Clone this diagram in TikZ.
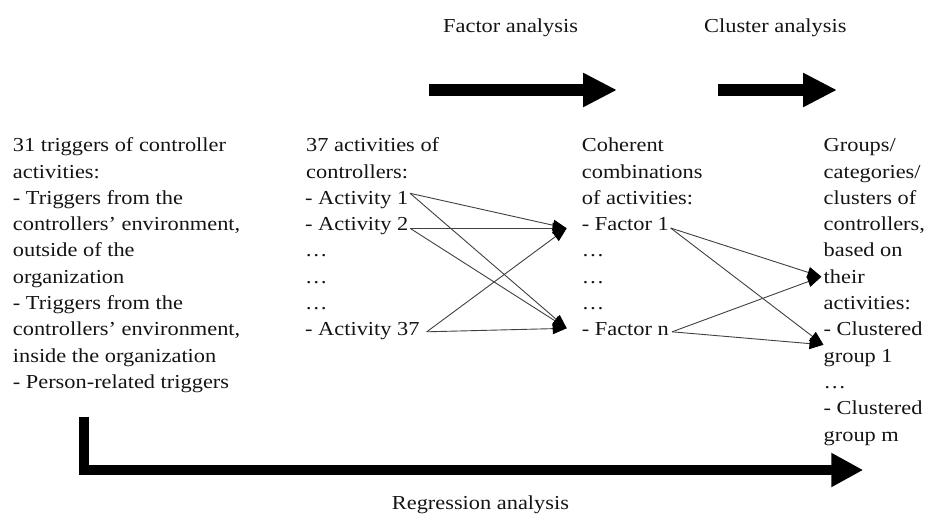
\documentclass[tikz,border=0pt]{standalone}
\usepackage{fontspec}
\setmainfont{Liberation Serif}[FakeStretch=1.13]
\usetikzlibrary{arrows.meta}
\begin{document}
\begin{tikzpicture}[x=1pt,y=-1pt,
  lbl/.style={inner sep=0pt, anchor=base west,
    font=\fontsize{19.8}{26.3}\selectfont, text=black!92},
  conn/.style={draw=black!75, line width=0.9pt,
    -{Triangle[length=14pt,width=11pt,color=black]}},
  bigarrow/.style={line width=12.5pt, line cap=butt,
    -{Triangle[length=34pt,width=32pt]}},
  regarrow/.style={line width=10pt, line join=miter, line cap=butt,
    -{Triangle[length=32pt,width=32pt]}}]
\useasboundingbox (0,0) rectangle (929,514);

% analysis labels
\node[lbl] (factorlbl)  at (443,32.3) {Factor analysis};
\node[lbl] (clusterlbl) at (704,32.3) {Cluster analysis};
\node[lbl] (reglbl)     at (391.7,509) {Regression analysis};

% column 1: triggers
\foreach \t [count=\i] in {31 triggers of controller, activities:,
    - Triggers from the, {controllers’ environment,}, outside of the,
    organization, - Triggers from the, {controllers’ environment,},
    inside the organization, - Person-related triggers}
  \node[lbl] (trig\i) at (12.7,{151.7+26.3*(\i-1)}) {\t};

% column 2: activities
\node[lbl] (acthead1) at (306,151.7) {37 activities of};
\node[lbl] (acthead2) at (306,178.0) {controllers:};
\node[lbl] (act1)  at (305,204.3) {- Activity 1};
\node[lbl] (act2)  at (305,230.6) {- Activity 2};
\node[lbl] (actd1) at (305,256.9) {…};
\node[lbl] (actd2) at (305,283.2) {…};
\node[lbl] (actd3) at (305,309.5) {…};
\node[lbl] (act37) at (305,335.8) {- Activity 37};

% column 3: factors
\node[lbl] (fachead1) at (581.7,151.7) {Coherent};
\node[lbl] (fachead2) at (581.7,178.0) {combinations};
\node[lbl] (fachead3) at (581.7,204.3) {of activities:};
\node[lbl] (fac1)  at (581.7,230.6) {- Factor 1};
\node[lbl] (facd1) at (581.7,256.9) {…};
\node[lbl] (facd2) at (581.7,283.2) {…};
\node[lbl] (facd3) at (581.7,309.5) {…};
\node[lbl] (facn)  at (581.7,335.8) {- Factor n};

% column 4: clusters
\foreach \t [count=\i] in {Groups/, categories/, clusters of,
    {controllers,}, based on, their, activities:, - Clustered,
    group 1, …, - Clustered, group m}
  \node[lbl] (grp\i) at (823.5,{151.7+26.3*(\i-1)}) {\t};

% activities -> factors
\draw[conn] ([xshift=1.5pt,yshift=11pt]act1.base east) -- ([xshift=-15pt,yshift=2.3pt]fac1.base west);
\draw[conn] ([xshift=1.5pt,yshift=11pt]act1.base east) -- ([xshift=-15pt,yshift=7.5pt]facn.base west);
\draw[conn] ([xshift=1.5pt,yshift=2.3pt]act2.base east) -- ([xshift=-15pt,yshift=2.3pt]fac1.base west);
\draw[conn] ([xshift=1.5pt,yshift=2.3pt]act2.base east) -- ([xshift=-15pt,yshift=7.5pt]facn.base west);
\draw[conn] ([xshift=7pt,yshift=4pt]act37.base east) -- ([xshift=-15pt,yshift=2.3pt]fac1.base west);
\draw[conn] ([xshift=7pt,yshift=4pt]act37.base east) -- ([xshift=-15pt,yshift=7.5pt]facn.base west);

% factors -> clusters
\draw[conn] ([xshift=1.5pt,yshift=2.6pt]fac1.base east) -- ([xshift=-2pt,yshift=6.5pt]grp6.base west);
\draw[conn] ([xshift=1.5pt,yshift=2.6pt]fac1.base east) -- ([xshift=0pt,yshift=-9pt]grp8.base west);
\draw[conn] ([xshift=3pt,yshift=4pt]facn.base east) -- ([xshift=-2pt,yshift=6.5pt]grp6.base west);
\draw[conn] ([xshift=3pt,yshift=4pt]facn.base east) -- ([xshift=0pt,yshift=-9pt]grp8.base west);

% analysis arrows
\coordinate (fastart) at (429,90);
\coordinate (faend)   at (617,90);
\coordinate (castart) at (718,90);
\coordinate (caend)   at (837,90);
\draw[bigarrow] (fastart) -- (faend);
\draw[bigarrow] (castart) -- (caend);

% regression arrow
\coordinate (regstart) at (84,416.7);
\coordinate (regend)   at (863.3,470);
\draw[regarrow] (regstart) |- (regend);
\end{tikzpicture}
\end{document}
